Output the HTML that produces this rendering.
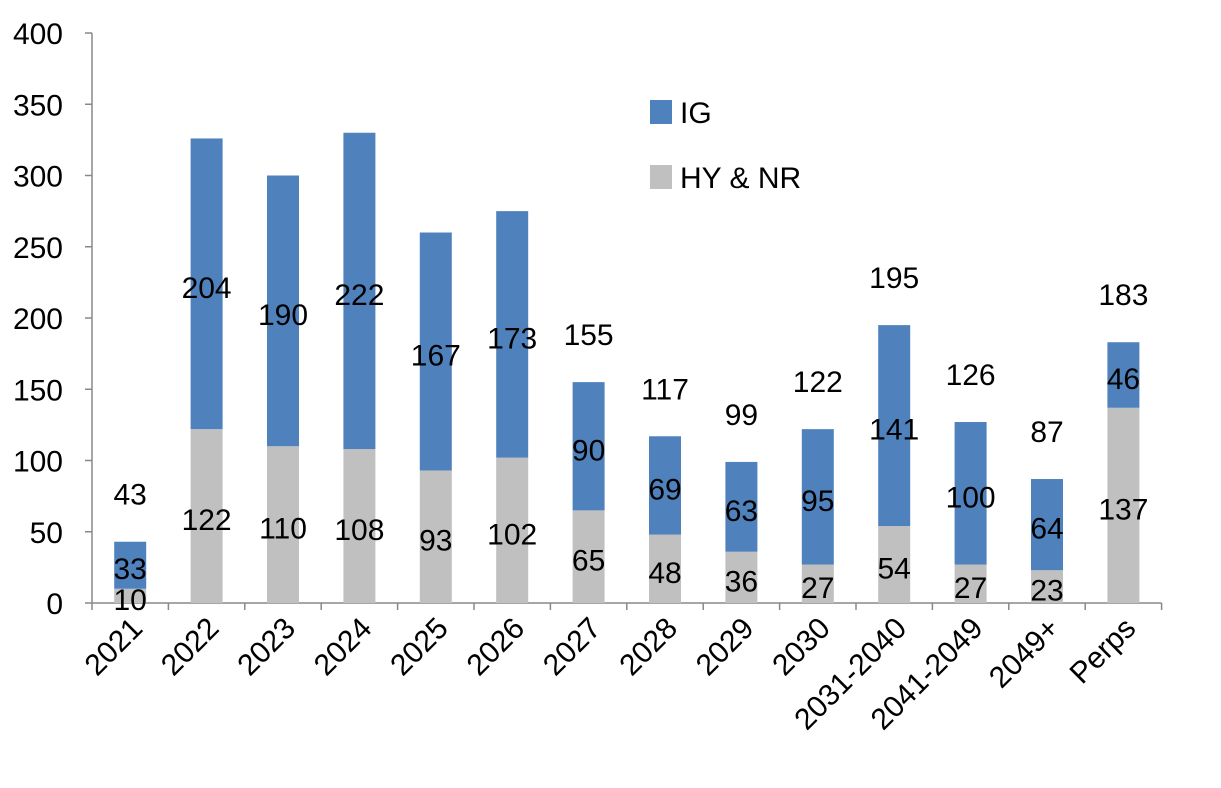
<!DOCTYPE html>
<html><head><style>body{margin:0;background:#fff}</style></head><body>
<svg width="1221" height="783" xmlns="http://www.w3.org/2000/svg" font-family="Liberation Sans, Arial, sans-serif">
<rect width="1221" height="783" fill="#fff"/>
<g id="c"></g>
</svg>
<script>
const g=document.getElementById('c');
const ns='http://www.w3.org/2000/svg';
function el(t,a,txt){const e=document.createElementNS(ns,t);for(const k in a)e.setAttribute(k,a[k]);if(txt!==undefined)e.textContent=txt;g.appendChild(e);return e;}
const y0=603,s=1.425,x0=92,step=76.4,bw=32,fs=30;
const Y=v=>y0-v*s;
el('line',{x1:x0,y1:Y(400),x2:x0,y2:y0,stroke:'#888','stroke-width':1.5});
el('line',{x1:x0,y1:y0,x2:x0+14*step,y2:y0,stroke:'#888','stroke-width':1.5});
for(let v=0;v<=400;v+=50){
 el('line',{x1:x0-7,y1:Y(v),x2:x0,y2:Y(v),stroke:'#888','stroke-width':1.5});
 el('text',{x:63,y:Y(v)+11,'text-anchor':'end','font-size':fs},v);
}
for(let i=0;i<=14;i++) el('line',{x1:x0+i*step,y1:y0,x2:x0+i*step,y2:y0+7,stroke:'#888','stroke-width':1.5});
const cats=['2021','2022','2023','2024','2025','2026','2027','2028','2029','2030','2031-2040','2041-2049','2049+','Perps'];
const hy=[10,122,110,108,93,102,65,48,36,27,54,27,23,137];
const ig=[33,204,190,222,167,173,90,69,63,95,141,100,64,46];
const tot=[43,null,null,null,null,null,155,117,99,122,195,126,87,183];
cats.forEach((c,i)=>{
 const cx=x0+step*(i+0.5);
 const t=hy[i]+ig[i];
 el('rect',{x:cx-bw/2,y:Y(hy[i]),width:bw,height:hy[i]*s,fill:'#C0C0C0'});
 el('rect',{x:cx-bw/2,y:Y(t),width:bw,height:ig[i]*s,fill:'#4F81BD'});
 el('text',{x:cx,y:Y(hy[i]/2)+14,'text-anchor':'middle','font-size':fs},hy[i]);
 el('text',{x:cx,y:Y(hy[i]+ig[i]/2)+14,'text-anchor':'middle','font-size':fs},ig[i]);
 if(tot[i]!==null) el('text',{x:cx,y:Y(t)-37,'text-anchor':'middle','font-size':fs},tot[i]);
 el('text',{x:cx+14,y:y0+27,'text-anchor':'end','font-size':fs,transform:`rotate(-45 ${cx+14} ${y0+27})`},c);
});
el('rect',{x:650,y:100,width:22,height:24,fill:'#4F81BD'});
el('text',{x:680,y:123,'font-size':fs},'IG');
el('rect',{x:650,y:165,width:22,height:24,fill:'#C0C0C0'});
el('text',{x:680,y:188,'font-size':fs},'HY & NR');
</script>
</body></html>
